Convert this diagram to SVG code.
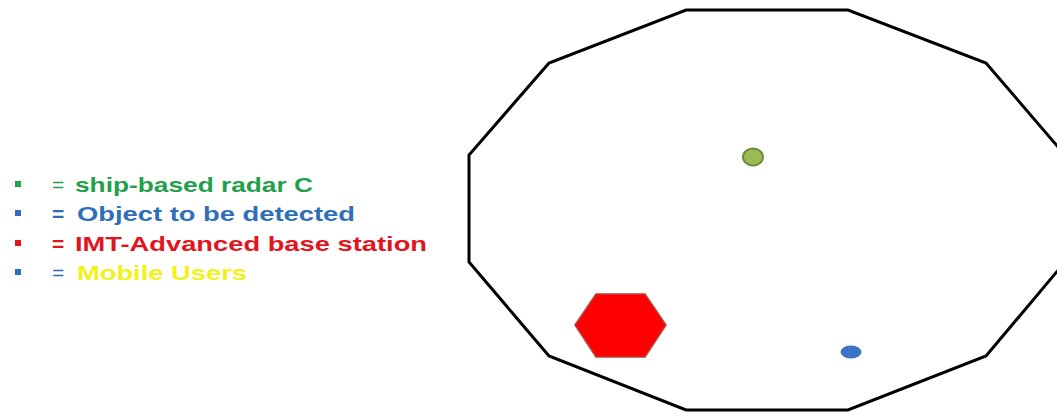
<svg xmlns="http://www.w3.org/2000/svg" width="1057" height="413" viewBox="0 0 1057 413">
<style>
.lg{font-family:"Liberation Sans",Arial,sans-serif;font-size:21px;font-weight:bold}
.eq{font-family:"Liberation Sans",Arial,sans-serif;font-size:21px}
.g{fill:#23a04c}.b{fill:#2f6fba}.r{fill:#e3141e}.y{fill:#f2f21a}
</style>
<rect width="1057" height="413" fill="#ffffff"/>
<g id="legend">
  <g id="legend-radar">
    <rect x="15" y="181" width="6" height="6" class="g"/>
    <text x="52" y="192" class="eq g">=</text>
    <text x="75" y="192" class="lg g" textLength="238" lengthAdjust="spacingAndGlyphs">ship-based radar C</text>
  </g>
  <g id="legend-object">
    <rect x="15" y="210" width="6" height="6" class="b"/>
    <text x="52" y="221" class="lg b">=</text>
    <text x="77" y="221" class="lg b" textLength="278" lengthAdjust="spacingAndGlyphs">Object to be detected</text>
  </g>
  <g id="legend-bs">
    <rect x="15" y="240" width="6" height="6" class="r"/>
    <text x="52" y="251" class="lg r">=</text>
    <text x="75" y="251" class="lg r" textLength="352" lengthAdjust="spacingAndGlyphs">IMT-Advanced base station</text>
  </g>
  <g id="legend-users">
    <rect x="15" y="269" width="6" height="6" class="b"/>
    <text x="52" y="280" class="eq b">=</text>
    <text x="77" y="280" class="lg y" textLength="170" lengthAdjust="spacingAndGlyphs">Mobile Users</text>
  </g>
</g>
<g id="coverage">
  <polygon points="686,10 848,10 986,63 1065,155 1065,262 986,356 848,410 686,410 549,356 469,262 469,155 549,63" fill="none" stroke="#000" stroke-width="3" stroke-linejoin="miter"/>
</g>
<g id="radar">
  <ellipse cx="753" cy="157" rx="10" ry="8.5" fill="#9bbb59" stroke="#6f8a3a" stroke-width="2"/>
</g>
<g id="base-station">
  <polygon points="575,325 596,294 645,294 666,325 645,357 596,357" fill="#ff0000" stroke="#b8403a" stroke-width="1.5"/>
</g>
<g id="object">
  <ellipse cx="851" cy="352" rx="10" ry="6" fill="#3a74c4" stroke="#3566ad" stroke-width="1"/>
</g>
</svg>
